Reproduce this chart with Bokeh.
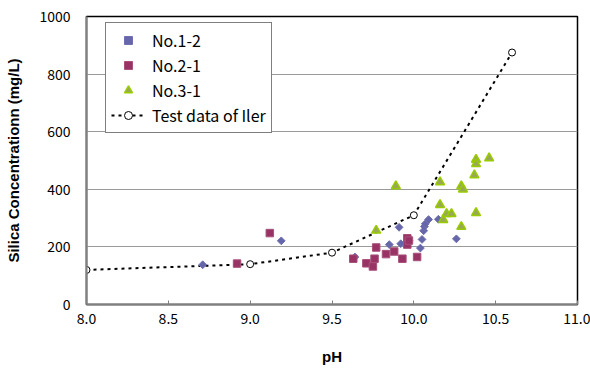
from bokeh.plotting import figure
from bokeh.models import Range1d, FixedTicker, NumeralTickFormatter, Legend, LegendItem
from bokeh.embed import file_html
from bokeh.resources import INLINE
import math

# ---- data ----
iler_ph = [8.0, 9.0, 9.5, 10.0, 10.6]
iler_si = [120, 140, 180, 310, 875]

no12_ph = [8.71, 9.19, 9.64, 9.85, 9.91, 9.92, 9.97, 10.04, 10.05, 10.06, 10.065, 10.07, 10.09, 10.15, 10.26]
no12_si = [138, 221, 165, 208, 268, 211, 222, 196, 226, 256, 271, 280, 295, 296, 228]

no21_ph = [8.92, 9.12, 9.63, 9.71, 9.75, 9.76, 9.77, 9.83, 9.88, 9.93, 9.96, 9.96, 9.97, 10.02]
no21_si = [142, 248, 159, 143, 132, 159, 198, 175, 184, 159, 230, 208, 222, 165]

no31_ph = [9.77, 9.89, 10.16, 10.16, 10.18, 10.20, 10.23, 10.29, 10.29, 10.30, 10.37, 10.38, 10.38, 10.38, 10.46]
no31_si = [257, 411, 425, 346, 294, 315, 315, 270, 411, 400, 449, 503, 488, 318, 508]

x_ticks = [8.0, 8.5, 9.0, 9.5, 10.0, 10.5, 11.0]
y_ticks = [0, 200, 400, 600, 800, 1000]

TICK_FONT = "Noto Sans CJK JP"
TITLE_FONT = "Liberation Sans"

p = figure(width=590, height=369, output_backend="svg", toolbar_location=None,
           x_range=Range1d(8.0, 11.0), y_range=Range1d(0, 1000),
           min_border_left=86, min_border_right=13, min_border_top=16, min_border_bottom=65)
p.background_fill_color = "white"
p.border_fill_color = "white"
p.outline_line_color = "black"
p.outline_line_width = 1.5

p.xgrid.visible = False
p.ygrid.ticker = FixedTicker(ticks=y_ticks)
p.ygrid.grid_line_color = "#9a9a9a"
p.ygrid.grid_line_width = 1

p.xaxis.ticker = FixedTicker(ticks=x_ticks)
p.xaxis.formatter = NumeralTickFormatter(format="0.0")
p.yaxis.ticker = FixedTicker(ticks=y_ticks)
for ax in (p.xaxis, p.yaxis):
    ax.axis_line_color = "#808080"
    ax.axis_line_width = 2
    ax.major_tick_line_color = "#808080"
    ax.minor_tick_line_color = None
    ax.major_label_text_font = TICK_FONT
    ax.major_label_text_font_size = "14px"
    ax.major_label_text_color = "black"
    ax.axis_label_text_font = TITLE_FONT
    ax.axis_label_text_font_size = "15px"
    ax.axis_label_text_font_style = "bold"
    ax.axis_label_text_color = "black"
p.xaxis.major_tick_in = 4
p.xaxis.major_tick_out = 0
p.yaxis.major_tick_in = 0
p.yaxis.major_tick_out = 0
p.xaxis.major_label_standoff = 8
p.yaxis.major_label_standoff = 16
p.xaxis.axis_label = "pH"
p.yaxis.axis_label = "Silica Concentrationn (mg/L)"
p.xaxis.axis_label_standoff = 21
p.yaxis.axis_label_standoff = 14

r_iler_line = p.line(iler_ph, iler_si, line_color="black", line_width=2, line_dash="3 4")
r_iler_pts = p.scatter(iler_ph, iler_si, marker="circle", size=7, fill_color="white",
                       line_color="black", line_width=1)
r12 = p.scatter(no12_ph, no12_si, marker="square", angle=math.pi / 4, size=5.5,
                fill_color="#6666aa", line_color="#7070b0", line_width=1)
r21 = p.scatter(no21_ph, no21_si, marker="square", size=7.5,
                fill_color="#993366", line_color="#a8507a", line_width=1)
r31 = p.scatter(no31_ph, no31_si, marker="triangle", size=9,
                fill_color="#98a858", line_color="#99cc00", line_width=1.5)

legend = Legend(items=[
    LegendItem(label="No.1-2", renderers=[r12]),
    LegendItem(label="No.2-1", renderers=[r21]),
    LegendItem(label="No.3-1", renderers=[r31]),
    LegendItem(label="Test data of Iler", renderers=[r_iler_line, r_iler_pts]),
], location=(19, 171))
legend.border_line_color = "black"
legend.border_line_width = 1
legend.background_fill_color = "white"
legend.background_fill_alpha = 1
legend.label_text_font = TICK_FONT
legend.label_text_font_size = "16px"
legend.label_text_color = "black"
legend.padding = 5
legend.spacing = 1
legend.label_height = 20
legend.glyph_height = 20
legend.glyph_width = 34
legend.label_standoff = 7
legend.margin = 0
p.add_layout(legend, "center")

open("out.html", "w").write(file_html(p, INLINE))
